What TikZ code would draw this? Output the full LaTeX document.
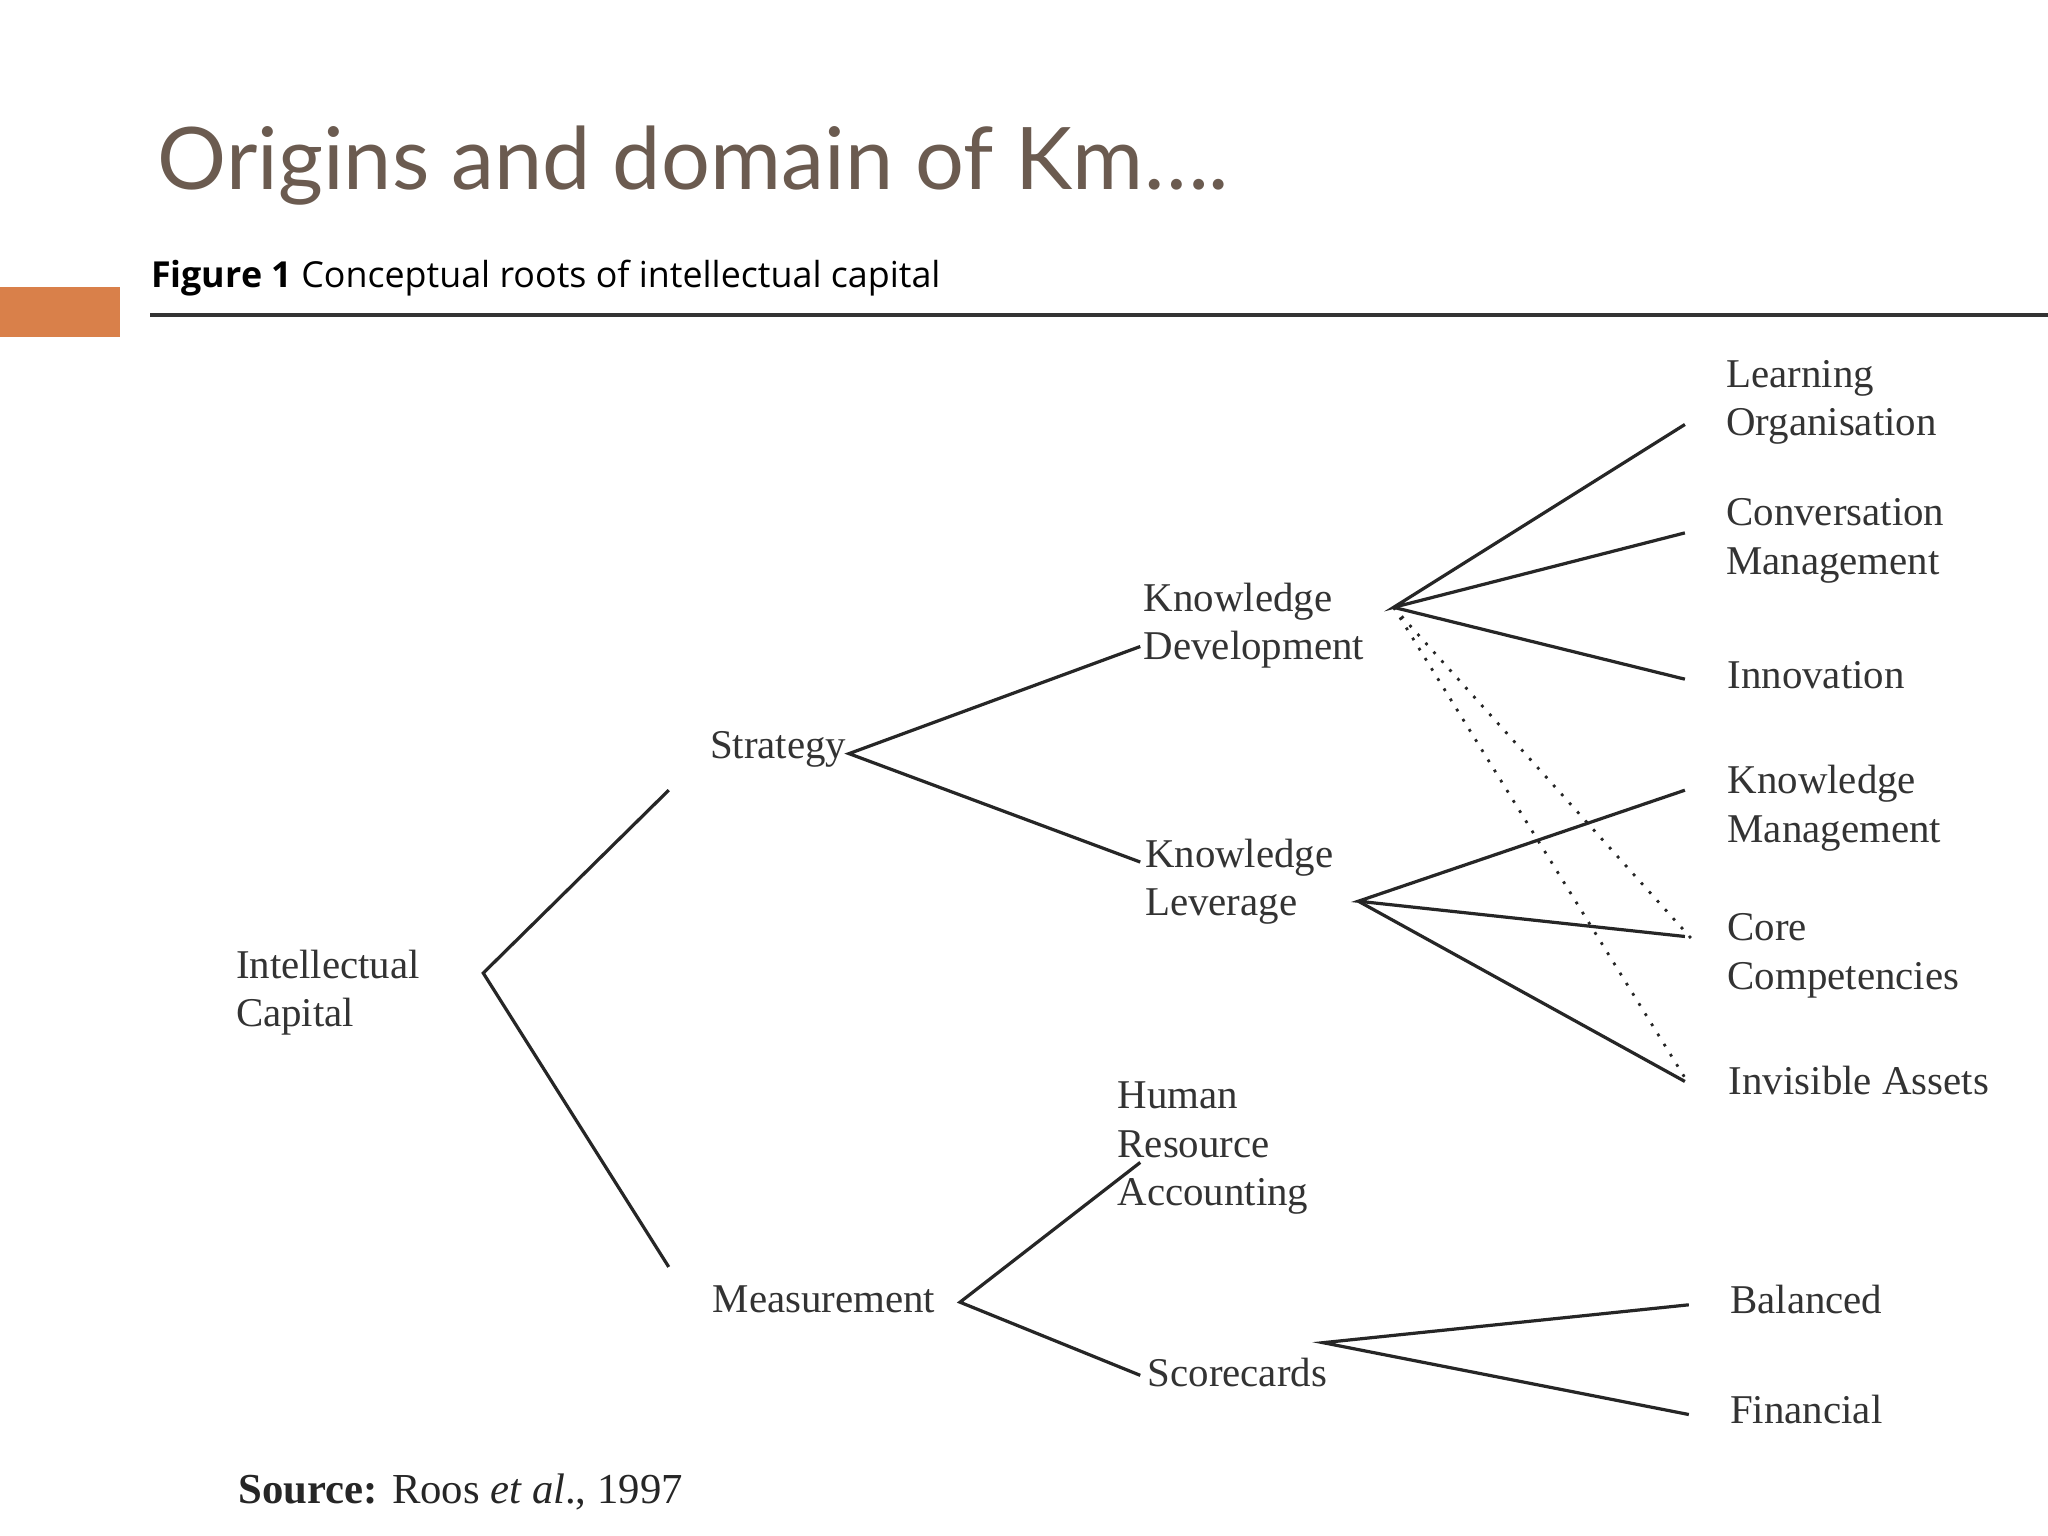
\documentclass[tikz,border=0pt]{standalone}
\usepackage{fontspec}
\setmainfont{Liberation Serif}
\newfontfamily\titlefont{Lato}
\newfontfamily\capfont{Open Sans}
\begin{document}
\begin{tikzpicture}[x=0.01cm,y=-0.01cm,
  lbl/.style={anchor=west,align=left,inner sep=0pt,font=\fontsize{8.9}{10.6}\selectfont,text=black!80},
  br/.style={line width=0.7pt,black!85},
  dot/.style={line width=0.6pt,black!85,dotted}]
\useasboundingbox[fill=white] (0,0) rectangle (1568,1176);
\fill[fill={rgb,255:red,217;green,128;blue,74}] (0,220) rectangle (92,258);
\node[anchor=west,inner sep=0pt,text={rgb,255:red,107;green,91;blue,80},font=\titlefont\fontsize{18.8}{22}\selectfont] (title) at (120,127) {Origins and domain of Km….};
\node[anchor=west,inner sep=0pt,font=\capfont\fontsize{7.8}{9}\selectfont] (cap) at (115,213) {\textbf{Figure 1} Conceptual roots of intellectual capital};
\draw[line width=0.8pt,black!80] (115,241) -- (1568,241);
% labels
\node[lbl] (ic) at (180,760) {Intellectual\\Capital};
\node[lbl] (st) at (543,574) {Strategy};
\node[lbl] (me) at (545,995) {Measurement};
\node[lbl] (kd) at (875,479) {Knowledge\\Development};
\node[lbl] (kl) at (876,675) {Knowledge\\Leverage};
\node[lbl] (hr) at (855,879) {Human\\Resource\\Accounting};
\node[lbl] (sc) at (878,1051) {Scorecards};
\node[lbl] (lo) at (1321,308) {Learning\\Organisation};
\node[lbl] (cm) at (1321,414) {Conversation\\Management};
\node[lbl] (in) at (1322,517) {Innovation};
\node[lbl] (km) at (1322,619) {Knowledge\\Management};
\node[lbl] (cc) at (1322,732) {Core\\Competencies};
\node[lbl] (ia) at (1323,827) {Invisible Assets};
\node[lbl] (ba) at (1324,995) {Balanced};
\node[lbl] (fi) at (1324,1079) {Financial};
\node[anchor=west,inner sep=0pt,font=\fontsize{9.3}{11}\selectfont,text=black!85] (src) at (182,1142) {\textbf{Source:} Roos \textit{et al}., 1997};
% apexes
\coordinate (aic) at (370,745);
\coordinate (ast) at (650,577);
\coordinate (akd) at (1067,465);
\coordinate (akl) at (1040,690);
\coordinate (ame) at (735,997);
\coordinate (asc) at (1013,1028);
\draw[br] (512,605) -- (aic) -- (512,970);
\draw[br] (873,495) -- (ast) -- (873,660);
\draw[br] (1290,325) -- (akd) -- (1290,408);
\draw[br] (akd) -- (1290,520);
\draw[dot] (akd) -- (1298,722);
\draw[dot] (akd) -- (1293,830);
\draw[br] (1290,605) -- (akl) -- (1290,717);
\draw[br] (akl) -- (1290,828);
\draw[br] (873,890) -- (ame) -- (873,1053);
\draw[br] (1293,999) -- (asc) -- (1293,1083);
\end{tikzpicture}
\end{document}
